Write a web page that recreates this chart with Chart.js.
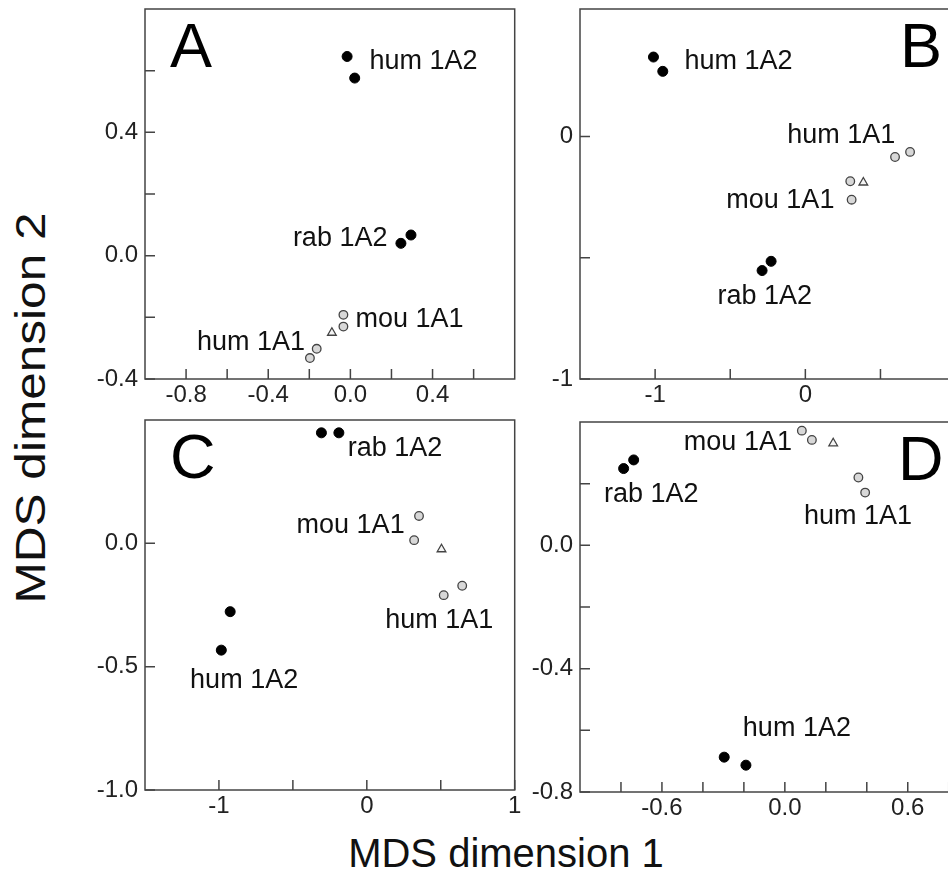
<!DOCTYPE html>
<html>
<head>
<meta charset="utf-8">
<script src="https://cdn.jsdelivr.net/npm/chart.js@4.4.1/dist/chart.umd.min.js"></script>
<style>
  html, body { margin: 0; padding: 0; background: #fff; }
  body { width: 948px; height: 877px; overflow: hidden; position: relative;
         font-family: 'Liberation Sans', Arial, sans-serif; }
  canvas { position: absolute; }
  .title { position: absolute; line-height: 40px; color: #111; white-space: nowrap; }
</style>
</head>
<body>
<canvas id="panel-a" width="466" height="412" style="left:55px;top:0px"></canvas>
<canvas id="panel-b" width="547" height="412" style="left:490px;top:0px"></canvas>
<canvas id="panel-c" width="466" height="412" style="left:55px;top:411px"></canvas>
<canvas id="panel-d" width="506" height="412" style="left:490px;top:413px"></canvas>
<div class="title" style="font-size:40px;left:506px;top:833px;transform:translateX(-50%)">MDS dimension 1</div>
<div class="title" style="font-size:42px;left:31px;top:408px;transform:translate(-50%,-50%) rotate(-90deg) scaleX(1.18)">MDS dimension 2</div>
<script>
// Panel A
const aHum1A2 = [{ x: -0.016, y: 0.646 }, { x: 0.021, y: 0.576 }];
const aRab1A2 = [{ x: 0.246, y: 0.040 }, { x: 0.295, y: 0.067 }];
const aHum1A1 = [{ x: -0.164, y: -0.302 }, { x: -0.197, y: -0.332 }];
const aMou1A1 = [{ x: -0.034, y: -0.192 }, { x: -0.034, y: -0.230 }];
const aTri = [{ x: -0.09, y: -0.25 }];
const aXTicks = [-0.8, -0.6, -0.4, -0.2, 0, 0.2, 0.4, 0.6];
const aXLabels = ['-0.8', '', '-0.4', '', '0.0', '', '0.4', ''];
const aYTicks = [-0.4, -0.2, 0, 0.2, 0.4, 0.6];
const aYLabels = ['-0.4', '', '0.0', '', '0.4', ''];
const aNotes = [
    { text: 'hum 1A2', x: 0.093, y: 0.631 },
    { text: 'rab 1A2', x: -0.280, y: 0.057 },
    { text: 'mou 1A1', x: 0.025, y: -0.208 },
    { text: 'hum 1A1', x: -0.747, y: -0.283 }
];

// Panel B
const bHum1A2 = [{ x: -1.011, y: 0.327 }, { x: -0.949, y: 0.268 }];
const bRab1A2 = [{ x: -0.288, y: -0.553 }, { x: -0.228, y: -0.515 }];
const bHum1A1 = [{ x: 0.597, y: -0.085 }, { x: 0.697, y: -0.064 }];
const bMou1A1 = [{ x: 0.299, y: -0.185 }, { x: 0.308, y: -0.261 }];
const bTri = [{ x: 0.386, y: -0.19 }];
const bXTicks = [-1, -0.5, 0, 0.5, 1];
const bXLabels = ['-1', '', '0', '', '1'];
const bYTicks = [-1, -0.5, 0];
const bYLabels = ['-1', '', '0'];
const bNotes = [
    { text: 'hum 1A2', x: -0.805, y: 0.308 },
    { text: 'hum 1A1', x: -0.120, y: 0.003 },
    { text: 'mou 1A1', x: -0.526, y: -0.265 },
    { text: 'rab 1A2', x: -0.585, y: -0.661 }
];

// Panel C
const cHum1A2 = [{ x: -0.924, y: -0.277 }, { x: -0.984, y: -0.433 }];
const cRab1A2 = [{ x: -0.307, y: 0.448 }, { x: -0.189, y: 0.448 }];
const cHum1A1 = [{ x: 0.645, y: -0.172 }, { x: 0.52, y: -0.21 }];
const cMou1A1 = [{ x: 0.353, y: 0.111 }, { x: 0.32, y: 0.013 }];
const cTri = [{ x: 0.505, y: -0.024 }];
const cXTicks = [-1, -0.5, 0, 0.5, 1];
const cXLabels = ['-1', '', '0', '', '1'];
const cYTicks = [-1, -0.5, 0];
const cYLabels = ['-1.0', '-0.5', '0.0'];
const cNotes = [
    { text: 'rab 1A2', x: -0.129, y: 0.386 },
    { text: 'mou 1A1', x: -0.475, y: 0.074 },
    { text: 'hum 1A1', x: 0.125, y: -0.315 },
    { text: 'hum 1A2', x: -1.195, y: -0.558 }
];

// Panel D
const dHum1A2 = [{ x: -0.296, y: -0.687 }, { x: -0.19, y: -0.713 }];
const dRab1A2 = [{ x: -0.787, y: 0.249 }, { x: -0.738, y: 0.277 }];
const dHum1A1 = [{ x: 0.359, y: 0.22 }, { x: 0.392, y: 0.171 }];
const dMou1A1 = [{ x: 0.083, y: 0.372 }, { x: 0.132, y: 0.342 }];
const dTri = [{ x: 0.236, y: 0.331 }];
const dXTicks = [-0.8, -0.6, -0.4, -0.2, 0, 0.2, 0.4, 0.6, 0.8];
const dXLabels = ['', '-0.6', '', '', '0.0', '', '', '0.6', ''];
const dYTicks = [-0.8, -0.6, -0.4, -0.2, 0, 0.2];
const dYLabels = ['-0.8', '', '-0.4', '', '0.0', ''];
const dNotes = [
    { text: 'mou 1A1', x: -0.493, y: 0.334 },
    { text: 'rab 1A2', x: -0.883, y: 0.164 },
    { text: 'hum 1A1', x: 0.093, y: 0.092 },
    { text: 'hum 1A2', x: -0.205, y: -0.593 }
];

const FONT = "'Liberation Sans', Arial, sans-serif";
const FRAME = '#444';

// frame, inward ticks, point labels and the panel letter
const panelDecor = {
    id: 'panelDecor',
    beforeDatasetsDraw(chart) {
        const { ctx, chartArea: a, scales: { x, y } } = chart;
        ctx.save();
        ctx.strokeStyle = FRAME;
        ctx.lineWidth = 1.5;
        ctx.strokeRect(a.left, a.top, a.right - a.left, a.bottom - a.top);
        ctx.beginPath();
        x.ticks.forEach(t => {
            const px = x.getPixelForValue(t.value);
            ctx.moveTo(px, a.bottom);
            ctx.lineTo(px, a.bottom - 10);
        });
        y.ticks.forEach(t => {
            const py = y.getPixelForValue(t.value);
            ctx.moveTo(a.left, py);
            ctx.lineTo(a.left + 10, py);
        });
        ctx.stroke();
        ctx.restore();
    },
    afterDatasetsDraw(chart, args, opts) {
        const { ctx, chartArea: a, scales: { x, y } } = chart;
        ctx.save();
        ctx.fillStyle = '#111';
        ctx.font = '27px ' + FONT;
        ctx.textAlign = 'left';
        ctx.textBaseline = 'middle';
        opts.notes.forEach(n => {
            ctx.fillText(n.text, x.getPixelForValue(n.x), y.getPixelForValue(n.y));
        });
        ctx.fillStyle = '#000';
        ctx.font = '63px ' + FONT;
        ctx.textBaseline = 'alphabetic';
        ctx.fillText(opts.letter, a.left + opts.letterX, a.top + opts.letterY);
        ctx.restore();
    }
};

function makePanel(id, d, range, letter, letterX) {
    const filled = { pointStyle: 'circle', pointRadius: 5, backgroundColor: '#000', borderColor: '#000', borderWidth: 1 };
    const open = { pointStyle: 'circle', pointRadius: 4.3, backgroundColor: '#d8d8d8', borderColor: '#444', borderWidth: 1.3 };
    new Chart(document.getElementById(id), {
        type: 'scatter',
        data: {
            datasets: [
                { label: 'hum 1A2', data: d.hum1A2, ...filled },
                { label: 'rab 1A2', data: d.rab1A2, ...filled },
                { label: 'hum 1A1', data: d.hum1A1, ...open },
                { label: 'mou 1A1', data: d.mou1A1, ...open },
                { label: '1A1', data: d.tri, pointStyle: 'triangle', pointRadius: 5, backgroundColor: '#f4f4f4', borderColor: '#444', borderWidth: 1.3 }
            ]
        },
        options: {
            responsive: false,
            animation: false,
            layout: { padding: { top: 9, right: 6, left: 0, bottom: 0 } },
            plugins: {
                legend: { display: false },
                tooltip: { enabled: false },
                panelDecor: { notes: d.notes, letter: letter, letterX: letterX, letterY: 58 }
            },
            scales: {
                x: {
                    type: 'linear',
                    min: range.xMin, max: range.xMax,
                    grid: { display: false, drawTicks: false, tickLength: 0 },
                    border: { display: false },
                    afterBuildTicks: axis => { axis.ticks = d.xTicks.map(v => ({ value: v })); },
                    afterFit: axis => { axis.height = 33; axis.paddingLeft = 0; axis.paddingRight = 0; },
                    ticks: {
                        autoSkip: false, maxRotation: 0, padding: 2,
                        color: '#222', font: { family: FONT, size: 24 },
                        callback: (v, i) => d.xLabels[i]
                    }
                },
                y: {
                    type: 'linear',
                    min: range.yMin, max: range.yMax,
                    grid: { display: false, drawTicks: false, tickLength: 0 },
                    border: { display: false },
                    afterBuildTicks: axis => { axis.ticks = d.yTicks.map(v => ({ value: v })); },
                    afterFit: axis => { axis.width = 90; axis.paddingTop = 0; axis.paddingBottom = 0; },
                    ticks: {
                        autoSkip: false, padding: 7,
                        color: '#222', font: { family: FONT, size: 24 },
                        callback: (v, i) => d.yLabels[i]
                    }
                }
            }
        },
        plugins: [panelDecor]
    });
}

makePanel('panel-a',
    { hum1A2: aHum1A2, rab1A2: aRab1A2, hum1A1: aHum1A1, mou1A1: aMou1A1, tri: aTri,
      xTicks: aXTicks, xLabels: aXLabels, yTicks: aYTicks, yLabels: aYLabels, notes: aNotes },
    { xMin: -1.0, xMax: 0.8, yMin: -0.4, yMax: 0.8 }, 'A', 25);
makePanel('panel-b',
    { hum1A2: bHum1A2, rab1A2: bRab1A2, hum1A1: bHum1A1, mou1A1: bMou1A1, tri: bTri,
      xTicks: bXTicks, xLabels: bXLabels, yTicks: bYTicks, yLabels: bYLabels, notes: bNotes },
    { xMin: -1.5, xMax: 1.5, yMin: -1, yMax: 0.525 }, 'B', 320);
makePanel('panel-c',
    { hum1A2: cHum1A2, rab1A2: cRab1A2, hum1A1: cHum1A1, mou1A1: cMou1A1, tri: cTri,
      xTicks: cXTicks, xLabels: cXLabels, yTicks: cYTicks, yLabels: cYLabels, notes: cNotes },
    { xMin: -1.5, xMax: 1.0, yMin: -1.0, yMax: 0.5 }, 'C', 25);
makePanel('panel-d',
    { hum1A2: dHum1A2, rab1A2: dRab1A2, hum1A1: dHum1A1, mou1A1: dMou1A1, tri: dTri,
      xTicks: dXTicks, xLabels: dXLabels, yTicks: dYTicks, yLabels: dYLabels, notes: dNotes },
    { xMin: -1.0, xMax: 1.0, yMin: -0.8, yMax: 0.4 }, 'D', 318);
</script>
</body>
</html>
